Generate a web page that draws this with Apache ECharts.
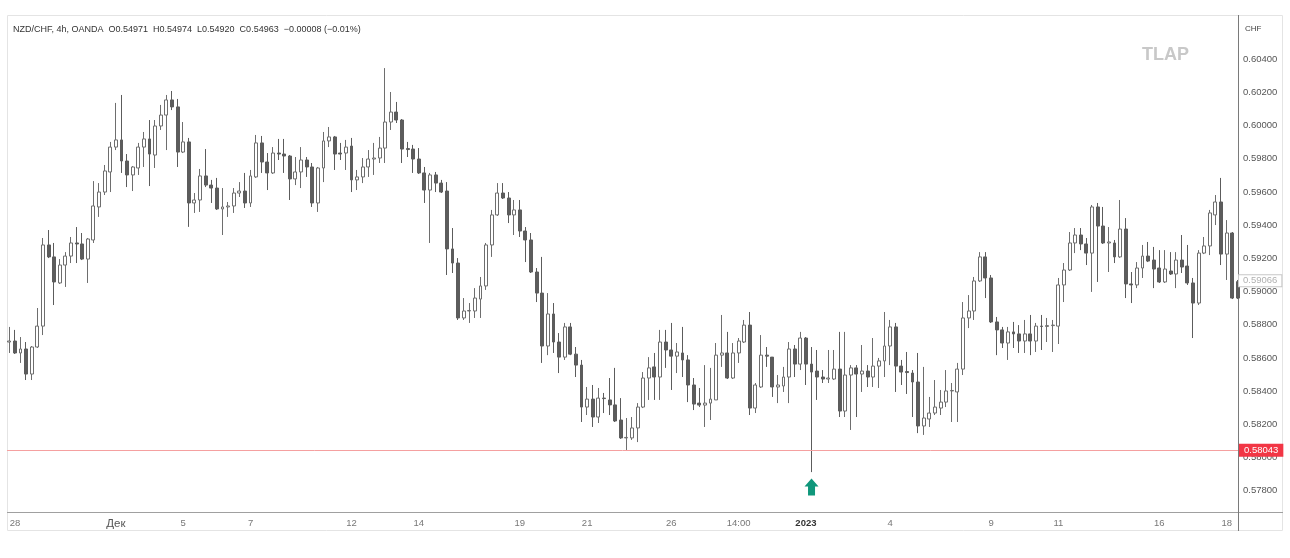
<!DOCTYPE html>
<html lang="ru">
<head>
    <meta charset="utf-8">
    <title>NZD/CHF 4h</title>
    <style>
        html, body { margin: 0; padding: 0; background: #fff; }
        #main { width: 1290px; height: 558px; }
    </style>
</head>
<body>
<div id="main"></div>
<script src="https://cdn.jsdelivr.net/npm/echarts/dist/echarts.min.js"></script>
<script type="text/javascript">
    // 4h candles: [open, close, low, high]
    var ohlc = [
        [0.58696,0.58702,0.58630,0.58787],[0.58702,0.58630,0.58624,0.58769],[0.58630,0.58654,0.58570,0.58726],
        [0.58654,0.58503,0.58467,0.58696],[0.58503,0.58666,0.58467,0.58672],[0.58666,0.58792,0.58660,0.58901],
        [0.58792,0.59281,0.58738,0.59323],[0.59281,0.59209,0.59202,0.59371],[0.59209,0.59058,0.58919,0.59293],
        [0.59052,0.59160,0.59046,0.59196],[0.59160,0.59214,0.59028,0.59238],[0.59214,0.59293,0.59172,0.59329],
        [0.59293,0.59287,0.59172,0.59389],[0.59287,0.59196,0.59190,0.59353],[0.59196,0.59317,0.59052,0.59323],
        [0.59311,0.59516,0.59293,0.59666],[0.59510,0.59600,0.59450,0.59654],[0.59600,0.59727,0.59582,0.59763],
        [0.59721,0.59871,0.59600,0.59902],[0.59871,0.59914,0.59853,0.60137],[0.59914,0.59787,0.59715,0.60185],
        [0.59787,0.59703,0.59630,0.59829],[0.59703,0.59751,0.59606,0.59757],[0.59745,0.59871,0.59703,0.59896],
        [0.59871,0.59920,0.59751,0.59962],[0.59920,0.59829,0.59636,0.60034],[0.59823,0.59998,0.59745,0.60034],
        [0.59998,0.60064,0.59974,0.60125],[0.60064,0.60155,0.59853,0.60185],[0.60155,0.60113,0.60094,0.60209],
        [0.60113,0.59841,0.59751,0.60161],[0.59841,0.59902,0.59835,0.60022],[0.59902,0.59534,0.59390,0.59926],
        [0.59534,0.59552,0.59474,0.59594],[0.59552,0.59697,0.59480,0.59739],[0.59697,0.59642,0.59630,0.59859],
        [0.59642,0.59624,0.59534,0.59673],[0.59624,0.59498,0.59492,0.59685],[0.59498,0.59510,0.59341,0.59624],
        [0.59510,0.59516,0.59450,0.59540],[0.59516,0.59594,0.59474,0.59624],[0.59594,0.59606,0.59570,0.59660],
        [0.59606,0.59534,0.59504,0.59715],[0.59534,0.59697,0.59510,0.59733],[0.59691,0.59896,0.59685,0.59944],
        [0.59896,0.59781,0.59715,0.59938],[0.59781,0.59715,0.59612,0.59835],[0.59715,0.59835,0.59709,0.59871],
        [0.59835,0.59829,0.59793,0.59920],[0.59829,0.59817,0.59715,0.59920],[0.59817,0.59679,0.59552,0.59823],
        [0.59679,0.59721,0.59642,0.59811],[0.59721,0.59793,0.59624,0.59871],[0.59793,0.59751,0.59691,0.59811],
        [0.59751,0.59534,0.59510,0.59775],[0.59534,0.59745,0.59480,0.59751],[0.59745,0.59908,0.59660,0.59962],
        [0.59908,0.59932,0.59871,0.59992],[0.59932,0.59829,0.59733,0.59938],[0.59835,0.59829,0.59793,0.59896],
        [0.59835,0.59871,0.59733,0.59914],[0.59877,0.59673,0.59600,0.59926],[0.59673,0.59691,0.59612,0.59733],
        [0.59691,0.59751,0.59654,0.59805],[0.59751,0.59799,0.59691,0.59853],[0.59799,0.59805,0.59703,0.59896],
        [0.59805,0.59865,0.59775,0.59932],[0.59865,0.60022,0.59775,0.60347],[0.60022,0.60082,0.59974,0.60203],
        [0.60082,0.60034,0.60016,0.60143],[0.60034,0.59859,0.59775,0.60040],[0.59862,0.59856,0.59811,0.59902],
        [0.59859,0.59799,0.59715,0.59884],[0.59799,0.59715,0.59709,0.59865],[0.59715,0.59612,0.59534,0.59751],
        [0.59612,0.59703,0.59293,0.59715],[0.59703,0.59654,0.59600,0.59721],[0.59654,0.59600,0.59594,0.59673],
        [0.59606,0.59257,0.59100,0.59660],[0.59257,0.59172,0.59112,0.59383],[0.59172,0.58841,0.58829,0.59202],
        [0.58841,0.58883,0.58829,0.58961],[0.58883,0.58886,0.58811,0.58931],[0.58883,0.58961,0.58841,0.59021],
        [0.58955,0.59034,0.58841,0.59088],[0.59034,0.59281,0.59010,0.59293],[0.59281,0.59462,0.59209,0.59492],
        [0.59462,0.59594,0.59456,0.59654],[0.59594,0.59564,0.59558,0.59654],[0.59564,0.59462,0.59413,0.59600],
        [0.59462,0.59492,0.59341,0.59552],[0.59492,0.59365,0.59329,0.59552],[0.59365,0.59311,0.59178,0.59389],
        [0.59311,0.59118,0.59112,0.59353],[0.59118,0.58991,0.58937,0.59142],[0.58991,0.58672,0.58570,0.59209],
        [0.58672,0.58865,0.58617,0.58991],[0.58865,0.58696,0.58630,0.58931],[0.58696,0.58605,0.58509,0.58750],
        [0.58605,0.58787,0.58588,0.58811],[0.58787,0.58623,0.58617,0.58811],[0.58623,0.58557,0.58485,0.58666],
        [0.58557,0.58304,0.58214,0.58588],[0.58304,0.58352,0.58256,0.58425],[0.58352,0.58244,0.58184,0.58437],
        [0.58244,0.58358,0.58208,0.58419],[0.58358,0.58355,0.58268,0.58389],[0.58347,0.58317,0.58256,0.58479],
        [0.58317,0.58220,0.58214,0.58540],[0.58226,0.58118,0.58112,0.58358],[0.58118,0.58121,0.58043,0.58238],
        [0.58118,0.58178,0.58106,0.58244],[0.58178,0.58304,0.58093,0.58328],[0.58304,0.58479,0.58298,0.58515],
        [0.58479,0.58540,0.58347,0.58605],[0.58546,0.58485,0.58347,0.58630],[0.58485,0.58696,0.58347,0.58769],
        [0.58696,0.58648,0.58540,0.58769],[0.58648,0.58611,0.58407,0.58811],[0.58611,0.58636,0.58509,0.58690],
        [0.58630,0.58588,0.58485,0.58787],[0.58588,0.58437,0.58334,0.58617],[0.58437,0.58322,0.58286,0.58479],
        [0.58328,0.58316,0.58304,0.58419],[0.58316,0.58328,0.58184,0.58557],[0.58328,0.58352,0.58226,0.58540],
        [0.58347,0.58617,0.58347,0.58690],[0.58617,0.58630,0.58546,0.58859],[0.58630,0.58479,0.58473,0.58757],
        [0.58479,0.58630,0.58473,0.58690],[0.58630,0.58702,0.58570,0.58720],[0.58696,0.58798,0.58690,0.58829],
        [0.58798,0.58298,0.58256,0.58877],[0.58298,0.58437,0.58268,0.58449],[0.58425,0.58617,0.58419,0.58738],
        [0.58617,0.58611,0.58546,0.58666],[0.58605,0.58425,0.58365,0.58605],[0.58425,0.58437,0.58328,0.58497],
        [0.58431,0.58485,0.58395,0.58546],[0.58485,0.58654,0.58328,0.58696],[0.58654,0.58563,0.58485,0.58678],
        [0.58563,0.58720,0.58527,0.58757],[0.58720,0.58563,0.58437,0.58726],[0.58563,0.58515,0.57912,0.58666],
        [0.58521,0.58485,0.58347,0.58648],[0.58485,0.58473,0.58449,0.58527],[0.58473,0.58479,0.58449,0.58648],
        [0.58473,0.58533,0.58467,0.58648],[0.58533,0.58280,0.58244,0.58757],[0.58280,0.58497,0.58244,0.58757],
        [0.58497,0.58540,0.58166,0.58557],[0.58540,0.58503,0.58244,0.58557],[0.58503,0.58521,0.58395,0.58678],
        [0.58521,0.58485,0.58425,0.58557],[0.58485,0.58551,0.58425,0.58720],[0.58551,0.58582,0.58419,0.58600],
        [0.58582,0.58672,0.58485,0.58877],[0.58672,0.58787,0.58557,0.58829],[0.58787,0.58551,0.58395,0.58811],
        [0.58551,0.58515,0.58437,0.58588],[0.58518,0.58512,0.58383,0.58636],[0.58509,0.58455,0.58244,0.58527],
        [0.58455,0.58190,0.58147,0.58630],[0.58190,0.58238,0.58136,0.58546],[0.58232,0.58268,0.58184,0.58365],
        [0.58268,0.58304,0.58256,0.58467],[0.58298,0.58334,0.58256,0.58407],[0.58334,0.58401,0.58304,0.58527],
        [0.58401,0.58404,0.58214,0.58449],[0.58395,0.58533,0.58214,0.58570],[0.58533,0.58841,0.58497,0.58937],
        [0.58841,0.58883,0.58780,0.58979],[0.58883,0.59064,0.58829,0.59088],[0.59064,0.59209,0.59058,0.59238],
        [0.59209,0.59082,0.58961,0.59238],[0.59082,0.58817,0.58811,0.59100],[0.58817,0.58769,0.58617,0.58847],
        [0.58769,0.58690,0.58660,0.58787],[0.58690,0.58757,0.58588,0.58787],[0.58757,0.58745,0.58660,0.58817],
        [0.58745,0.58702,0.58630,0.58798],[0.58702,0.58745,0.58630,0.58829],[0.58745,0.58702,0.58617,0.58859],
        [0.58702,0.58792,0.58636,0.58811],[0.58792,0.58790,0.58648,0.58859],[0.58790,0.58795,0.58696,0.58841],
        [0.58795,0.58798,0.58636,0.58829],[0.58792,0.59040,0.58684,0.59082],[0.59040,0.59130,0.58937,0.59172],
        [0.59130,0.59293,0.59124,0.59359],[0.59293,0.59341,0.59232,0.59383],[0.59341,0.59287,0.59250,0.59383],
        [0.59287,0.59232,0.59160,0.59323],[0.59232,0.59510,0.58998,0.59522],[0.59510,0.59395,0.59058,0.59534],
        [0.59395,0.59293,0.59287,0.59510],[0.59293,0.59299,0.59118,0.59389],[0.59293,0.59209,0.59172,0.59311],
        [0.59209,0.59377,0.59203,0.59552],[0.59377,0.59046,0.58961,0.59443],[0.59046,0.59040,0.58931,0.59118],
        [0.59040,0.59142,0.59021,0.59178],[0.59142,0.59214,0.59082,0.59281],[0.59214,0.59184,0.59178,0.59299],
        [0.59190,0.59136,0.59021,0.59269],[0.59142,0.59058,0.59052,0.59250],[0.59058,0.59136,0.59052,0.59250],
        [0.59124,0.59106,0.59100,0.59238],[0.59106,0.59190,0.59021,0.59238],[0.59190,0.59148,0.59112,0.59341],
        [0.59154,0.59052,0.59040,0.59281],[0.59052,0.58931,0.58720,0.59082],[0.58931,0.59232,0.58919,0.59250],
        [0.59232,0.59275,0.59226,0.59329],[0.59275,0.59474,0.59220,0.59492],[0.59462,0.59540,0.59401,0.59582],
        [0.59540,0.59226,0.59160,0.59685],[0.59226,0.59353,0.59070,0.59431],[0.59353,0.58961,0.58955,0.59359],
        [0.59060,0.58961,0.58955,0.59070]
    ];

    // date labels under the candles (candle index -> text)
    var tickIndex = [1, 19, 31, 43, 61, 73, 91, 103, 118, 130, 142, 157, 175, 187, 205, 217];
    var tickText = ['28', 'Дек', '5', '7', '12', '14', '19', '21', '26', '14:00', '2023', '4', '9', '11', '16', '18'];

    // price scale
    var priceTicks = [0.578, 0.580, 0.582, 0.584, 0.586, 0.588, 0.590, 0.592, 0.594, 0.596, 0.598, 0.600, 0.602, 0.604];
    var supportLevel = 0.58043;
    var lastPrice = 0.59066;
    var arrowIndex = 143;
    var arrowPrice = 0.57822;

    var candleData = ohlc.map(function (c, i) { return [i, c[0], c[1], c[2], c[3]]; });

    var myChart = echarts.init(document.getElementById('main'));
    myChart.setOption({
        animation: false,
        textStyle: { fontFamily: 'Liberation Sans, Arial, sans-serif' },
        title: {
            text: 'NZD/CHF, 4h, OANDA  O0.54971  H0.54974  L0.54920  C0.54963  \u22120.00008 (\u22120.01%)',
            left: 13, top: 25, padding: 0,
            textStyle: { fontSize: 9, fontWeight: 'normal', color: '#333' }
        },
        grid: { left: 7, right: 52, top: 15, bottom: 45 },
        xAxis: {
            type: 'value',
            min: -0.41,
            max: 219.02,
            axisLine: { show: false },
            axisTick: { show: false },
            splitLine: { show: false },
            axisLabel: {
                customValues: tickIndex,
                margin: 5,
                fontSize: 9.5,
                color: '#777',
                formatter: function (v) {
                    var t = tickText[tickIndex.indexOf(v)];
                    if (t === '2023') return '{b|' + t + '}';
                    if (t === 'Дек') return '{m|' + t + '}';
                    return t;
                },
                rich: {
                    b: { fontSize: 9.5, fontWeight: 'bold', color: '#333' },
                    m: { fontSize: 11.5, color: '#555' }
                }
            }
        },
        yAxis: {
            type: 'value',
            position: 'right',
            min: 0.576655,
            max: 0.60667,
            scale: true,
            axisLine: { show: false },
            axisTick: { show: false },
            splitLine: { show: false },
            axisLabel: {
                customValues: priceTicks,
                margin: 5,
                fontSize: 9.5,
                color: '#555',
                formatter: function (v) { return v.toFixed(5); }
            }
        },
        series: [{
            type: 'candlestick',
            data: candleData,
            encode: { x: 0, y: [1, 2, 3, 4] },
            barWidth: 3.4,
            clip: true,
            itemStyle: {
                color: '#ffffff',
                color0: '#5c5c5c',
                borderColor: '#6e6e6e',
                borderColor0: '#5c5c5c',
                borderWidth: 1
            },
            markLine: {
                symbol: 'none',
                silent: true,
                precision: 5,
                data: [
                    {
                        yAxis: supportLevel,
                        lineStyle: { color: '#f5a0a0', width: 1, type: 'solid', opacity: 1 },
                        label: {
                            position: 'end', distance: 1, formatter: supportLevel.toFixed(5),
                            backgroundColor: '#f23645', color: '#fff', fontSize: 9.5, padding: [2, 5, 1, 5]
                        }
                    },
                    {
                        yAxis: lastPrice,
                        lineStyle: { color: 'rgba(0,0,0,0)', width: 1, type: 'solid' },
                        label: {
                            position: 'end', distance: 1, formatter: lastPrice.toFixed(5),
                            backgroundColor: '#fff', borderColor: '#c8c8c8', borderWidth: 1,
                            color: '#b0b0b0', fontSize: 9.5, padding: [1, 4, 0, 4]
                        }
                    }
                ]
            },
            markPoint: {
                silent: true,
                symbol: 'path://M7 0 L14 8 L10.5 8 L10.5 17 L3.5 17 L3.5 8 L0 8 Z',
                symbolSize: [14, 17],
                itemStyle: { color: '#10977b' },
                label: { show: false },
                data: [{ coord: [arrowIndex, arrowPrice] }]
            }
        }],
        graphic: [
            { type: 'rect', silent: true, shape: { x: 7.5, y: 15.5, width: 1275, height: 515 },
              style: { fill: 'none', stroke: '#e4e4e4', lineWidth: 1 } },
            { type: 'line', silent: true, shape: { x1: 7, y1: 512.5, x2: 1283, y2: 512.5 },
              style: { stroke: '#a0a0a0', lineWidth: 1 } },
            { type: 'line', silent: true, shape: { x1: 1238.5, y1: 15, x2: 1238.5, y2: 531 },
              style: { stroke: '#7a7a7a', lineWidth: 1 } },
            { type: 'text', silent: true, left: 1245, top: 25,
              style: { text: 'CHF', fontSize: 8, fill: '#444', fontFamily: 'Liberation Sans' } },
            { type: 'text', silent: true, left: 1142, top: 46,
              style: { text: 'TLAP', fontSize: 18, fontWeight: 'bold', fill: '#c8c8c8', fontFamily: 'Liberation Sans' } }
        ]
    });
</script>
</body>
</html>
